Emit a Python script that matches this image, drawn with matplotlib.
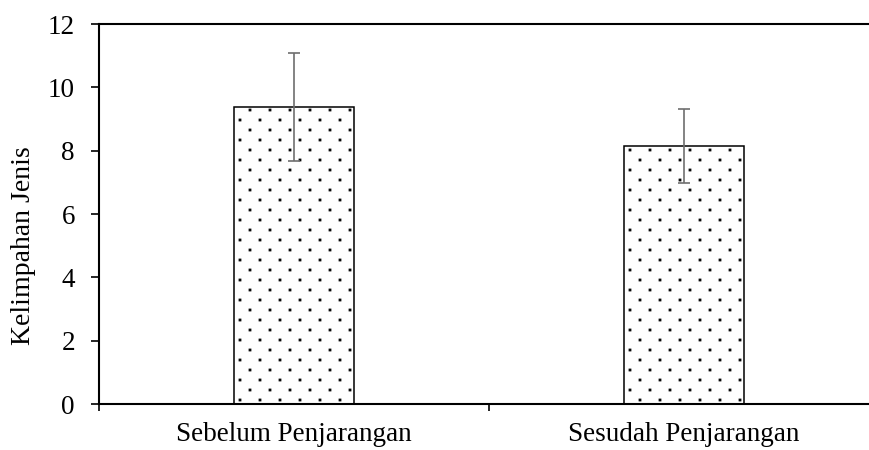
"""
Bar chart: Kelimpahan Jenis before / after thinning, dotted bars with error bars.
"""

import numpy as np
import matplotlib
matplotlib.use("Agg")
import matplotlib.pyplot as plt
import matplotlib.hatch as mhatch
from matplotlib.path import Path


categories = ["Sebelum Penjarangan", "Sesudah Penjarangan"]
means      = [9.38, 8.15]
errors     = [1.71, 1.17]
y_ticks    = [0, 2, 4, 6, 8, 10, 12]

ERR_GREY = "#6e6e6e"
FONT     = "Liberation Serif"


class StaggeredDots(mhatch.HatchPatternBase):
    """Small square dots, rows 10 px apart, dots 20 px apart, alternate rows shifted."""

    def __init__(self, hatch, density):
        n_rows = hatch.count(".") * 10
        n_cols = n_rows // 2
        half = 0.009
        square = np.array([[-1, -1], [1, -1], [1, 1], [-1, 1], [-1, -1]]) * half
        sq_codes = [Path.MOVETO, Path.LINETO, Path.LINETO, Path.LINETO, Path.CLOSEPOLY]
        verts, codes = [], []
        if n_rows:
            step_y = 1.0 / n_rows
            step_x = 1.0 / n_cols
            for r in range(n_rows + 1):
                if r % 2 == 0:
                    xs = np.linspace(0, 1, n_cols + 1)
                else:
                    xs = np.linspace(step_x / 2, 1 - step_x / 2, n_cols)
                for x in xs:
                    verts.append(square + [x, r * step_y])
                    codes.extend(sq_codes)
        self.verts = np.concatenate(verts) if verts else np.empty((0, 2))
        self.codes = np.array(codes, dtype=Path.code_type)
        self.num_vertices = len(self.verts)

    def set_vertices_and_codes(self, vertices, codes):
        vertices[:] = self.verts
        codes[:] = self.codes


# swap the stock filled-circle '.' hatch for the staggered dot grid
mhatch._hatch_types = [t for t in mhatch._hatch_types
                       if t is not mhatch.SmallFilledCircles] + [StaggeredDots]

plt.rcParams["font.family"] = [FONT, "DejaVu Serif"]
plt.rcParams["hatch.linewidth"] = 0.7
plt.rcParams["hatch.color"] = "black"

fig = plt.figure(figsize=(8.69, 4.5), dpi=100)
ax = fig.add_axes([99 / 869, 46 / 450, 780 / 869, 380 / 450])

x = np.arange(len(categories))
ax.bar(x, means, width=0.31, color="white", edgecolor="black",
       linewidth=1.1, hatch=".", zorder=2)
ax.errorbar(x, means, yerr=errors, fmt="none", ecolor=ERR_GREY,
            elinewidth=1.2, capsize=4, capthick=1.2, zorder=3)

ax.set_xlim(-0.5, 1.5)
ax.set_ylim(0, 12)
ax.set_yticks(y_ticks)
ax.set_yticklabels([str(t) for t in y_ticks])
ax.set_xticks(x)
ax.set_xticklabels(categories)
ax.set_xticks([-0.5, 0.5, 1.5], minor=True)

ax.tick_params(axis="y", direction="out", length=5.8, width=1.2,
               labelsize=19.5, pad=11.5)
ax.tick_params(axis="x", which="major", length=0, labelsize=19.5, pad=13)
ax.tick_params(axis="x", which="minor", direction="out", length=5, width=1.2)

for side in ["left", "bottom", "top"]:
    ax.spines[side].set_linewidth(1.5)
    ax.spines[side].set_color("black")
ax.spines["right"].set_visible(False)

fig.text(24 / 869, 1 - 246 / 450, "Kelimpahan Jenis", rotation=90,
         ha="center", va="center", fontsize=20)

fig.savefig("out.png", dpi=100, facecolor="white")
plt.close(fig)
